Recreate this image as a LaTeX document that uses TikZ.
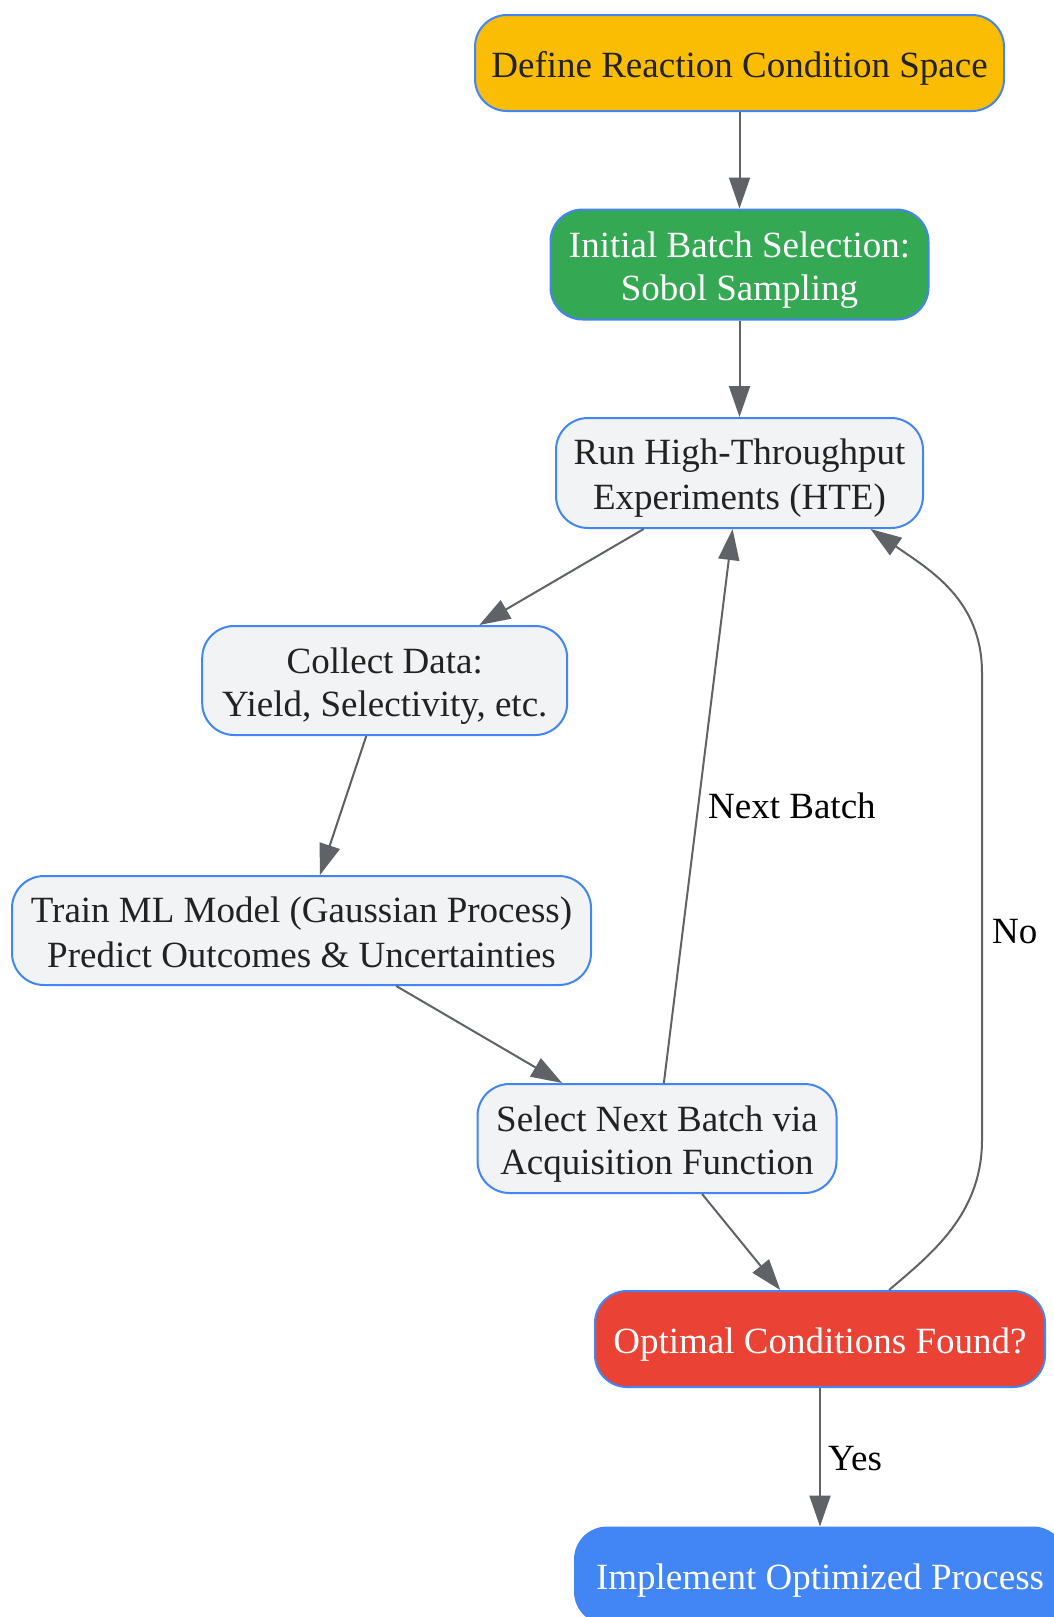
\documentclass[tikz,border=0pt]{standalone}
\usepackage{fontspec}
\setmainfont{Liberation Serif}
\usetikzlibrary{arrows.meta,calc}
\definecolor{edgec}{HTML}{5F6368}
\definecolor{bordc}{HTML}{4285F4}
\definecolor{grayc}{HTML}{F1F3F4}
\definecolor{yellowc}{HTML}{FBBC04}
\definecolor{greenc}{HTML}{34A853}
\definecolor{redc}{HTML}{EA4335}
\definecolor{bluec}{HTML}{4285F4}
\definecolor{txtc}{HTML}{222222}
\newcommand\lnstrut{\rule[-7pt]{0pt}{43.3pt}}
\begin{document}
\begin{tikzpicture}[x=1pt,y=-1pt,
  box/.style={draw=bordc, line width=2pt, rounded corners=32pt, inner sep=0pt, align=center,
    font=\fontsize{37}{43.3}\selectfont, text=txtc, fill=grayc},
  conn/.style={draw=edgec, line width=2pt, -{Triangle[length=31pt,width=21pt]}},
  lbl/.style={font=\fontsize{37}{43}\selectfont, text=black, inner sep=0pt, anchor=base west}]
\useasboundingbox (0,0) rectangle (1054,1617);
\fill[white] (0,0) rectangle (1054,1617);
\begin{scope}
\clip (0,0) rectangle (1054,1617);
\node[box, fill=yellowc, minimum width=529pt, minimum height=96pt] (n1) at (739.5,63) {\lnstrut Define Reaction Condition Space};
\node[box, fill=greenc, text=white, minimum width=378pt, minimum height=110pt] (n2) at (739.5,264.5) {\lnstrut Initial Batch Selection:\\\lnstrut Sobol Sampling};
\node[box, minimum width=367pt, minimum height=110pt] (n3) at (739.5,473) {\lnstrut Run High-Throughput\\\lnstrut Experiments (HTE)};
\node[box, minimum width=365pt, minimum height=109pt] (n4) at (384.7,680.5) {\lnstrut Collect Data:\\\lnstrut Yield, Selectivity, etc.};
\node[box, minimum width=579pt, minimum height=109pt] (n5) at (301.5,930.5) {\lnstrut Train ML Model (Gaussian Process)\\\lnstrut Predict Outcomes \& Uncertainties};
\node[box, minimum width=359pt, minimum height=109pt] (n6) at (657,1138.5) {\lnstrut Select Next Batch via\\\lnstrut Acquisition Function};
\node[box, fill=redc, text=white, minimum width=450pt, minimum height=96pt] (n7) at (820,1339) {\lnstrut Optimal Conditions Found?};
\node[box, fill=bluec, text=white, minimum width=490pt, minimum height=96pt] (n8) at (820,1575.5) {\lnstrut Implement Optimized Process};

\draw[conn] (n1) -- (n2);
\draw[conn] (n2) -- (n3);
\draw[conn] (n3) -- (n4);
\draw[conn] (n4) -- (n5);
\draw[conn] (n5) -- (n6);
\draw[conn] (n6) -- (n3);
\draw[conn] (n6) -- (n7);
\draw[conn] (n7) -- (n8);
\coordinate (nostart) at ($(n7.north)+(69,0)$);
\coordinate (noend) at ($(n3.south)+(131,0)$);
\draw[conn] (nostart) .. controls (930,1255) and (982,1215) .. (982,1140) -- (982,673)
  .. controls (982,600) and (930,570) .. (noend);

\node[lbl] (lnext) at (708,818) {Next Batch};
\node[lbl] (lno) at (992,943.6) {No};
\node[lbl] (lyes) at (828,1470) {Yes};
\end{scope}
\end{tikzpicture}
\end{document}
